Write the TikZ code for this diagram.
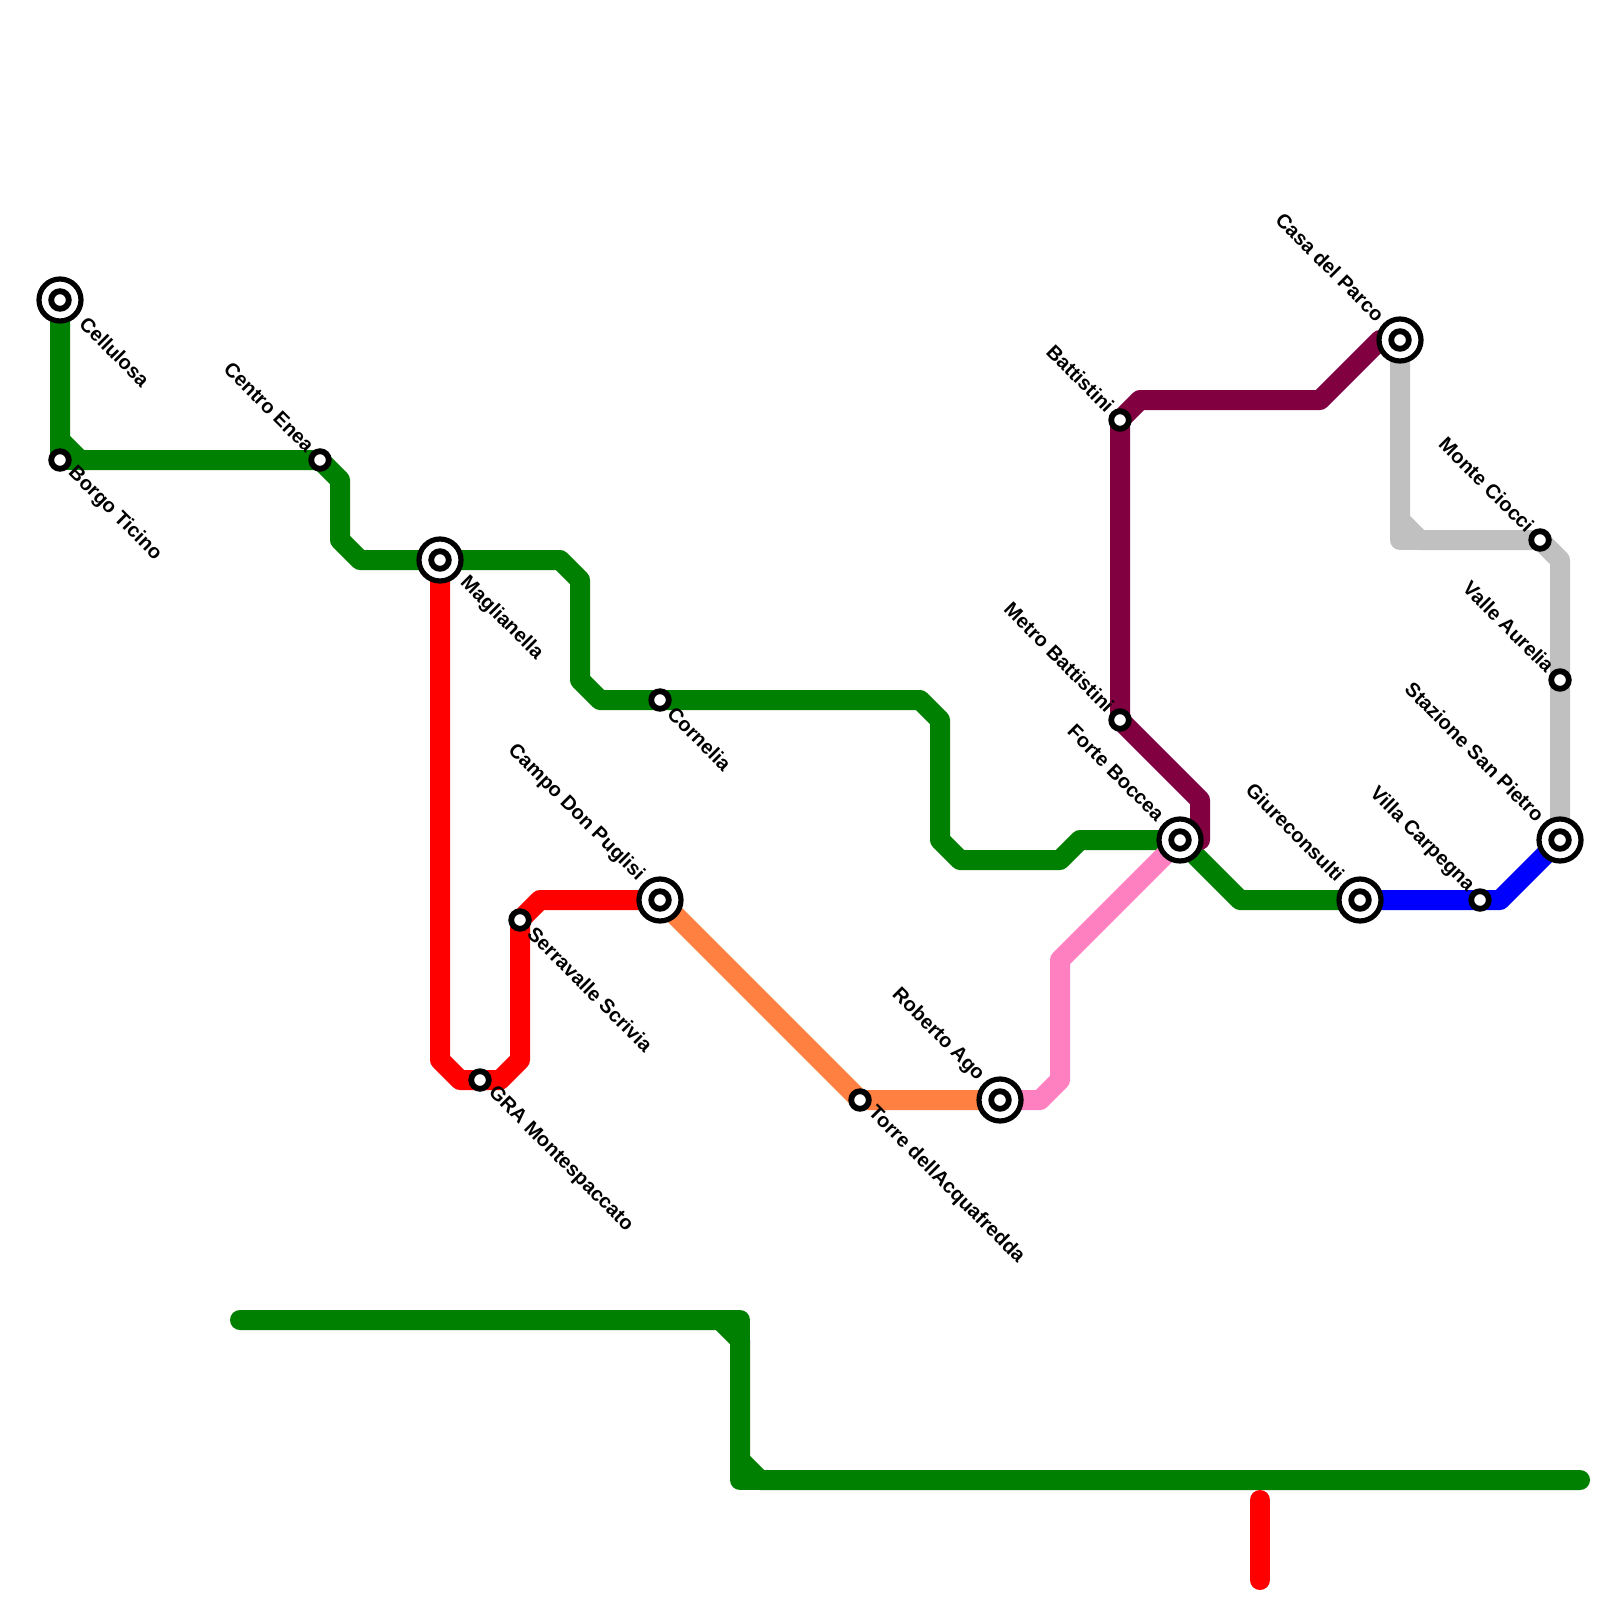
\documentclass[tikz,border=0pt]{standalone}
\usepackage{fontspec}
\setmainfont{Liberation Sans}
\usetikzlibrary{backgrounds}

\begin{document}
\begin{tikzpicture}[
    % GLOBAL CFG
    x=0.5pt,
    y=-0.5pt,
    font=\bfseries\fontsize{10}{12}\selectfont,
    % Styles
    stop/.style={% For plain stations
        circle,
        draw=black,
        fill=white,
        line width=2.9pt,
        minimum size=8.8pt,
        inner sep=0pt,
        },
    hubring/.style={% Outer ring of interchange stations
        stop,
        line width=2.6pt,
        minimum size=21pt,
        },
    txtdown/.style 2 args={% Names running away from the station
        inner sep=0pt,
        anchor=west,
        xshift=#1,
        yshift=-#2,
        rotate=-45,
        },
    txtup/.style 2 args={% Names running into the station
        inner sep=0pt,
        anchor=east,
        xshift=-#1,
        yshift=#2,
        rotate=-45,
        },
    stopdown/.style={txtdown={5.5pt}{5pt}},
    hubdown/.style={txtdown={11.5pt}{10pt}},
    stopup/.style={txtup={4.5pt}{5.5pt}},
    hubup/.style={txtup={9.5pt}{11pt}},
    LineAll/.style={% All lines
        line width=10pt,
        line join=round,
        line cap=round,
        },
    LineG/.style={LineAll, draw={rgb,255:red,0;green,128;blue,0}},
    LineR/.style={LineAll, draw=red},
    LineB/.style={LineAll, draw=blue},
    LineO/.style={LineAll, draw={rgb,255:red,255;green,128;blue,64}},
    LineP/.style={LineAll, draw={rgb,255:red,255;green,128;blue,192}},
    LineM/.style={LineAll, draw={rgb,255:red,128;green,0;blue,64}},
    LineS/.style={LineAll, draw={rgb,255:red,192;green,192;blue,192}},
    ]

\useasboundingbox (0,0) rectangle (1600,1600);

    % Draw the interchange stations
    \node [hubring] (cellulosa) at (60,300) {};
    \node [hubring] (maglianella) at (440,560) {};
    \node [hubring] (campo) at (660,900) {};
    \node [hubring] (roberto) at (1000,1100) {};
    \node [hubring] (forte) at (1180,840) {};
    \node [hubring] (giure) at (1360,900) {};
    \node [hubring] (casa) at (1400,340) {};
    \node [hubring] (pietro) at (1560,840) {};
    \foreach \hubname in {cellulosa,maglianella,campo,roberto,forte,giure,casa,pietro}
        \node [stop] (\hubname in) at (\hubname) {};

    % Draw the plain stations
    \node [stop] (borgo) at (60,460) {};
    \node [stop] (centro) at (320,460) {};
    \node [stop] (cornelia) at (660,700) {};
    \node [stop] (gra) at (480,1080) {};
    \node [stop] (serravalle) at (520,920) {};
    \node [stop] (torre) at (860,1100) {};
    \node [stop] (battistini) at (1120,420) {};
    \node [stop] (metro) at (1120,720) {};
    \node [stop] (monte) at (1540,540) {};
    \node [stop] (valle) at (1560,680) {};
    \node [stop] (villa) at (1480,900) {};

    % Free ends of the two lines at the bottom
    \coordinate (gstart) at (240,1320);
    \coordinate (gend) at (1580,1480);
    \coordinate (rstart) at (1260,1500);
    \coordinate (rend) at (1260,1580);

    % Lines go below the stations
    \begin{pgfonlayer}{background}
    \draw [LineG] (cellulosa.center) -- (60,440) -- (80,460) -- (centro.center)
        -- (340,480) -- (340,540) -- (360,560) -- (maglianella.center)
        -- (560,560) -- (580,580) -- (580,680) -- (600,700) -- (cornelia.center)
        -- (920,700) -- (940,720) -- (940,840) -- (960,860) -- (1060,860)
        -- (1080,840) -- (forte.center) -- (1240,900) -- (giure.center);
    \draw [LineG] (60,440) -- (borgo.center) -- (80,460);
    \draw [LineG] (gstart) -- (720,1320) -- (740,1340) -- (740,1460) -- (760,1480) -- (gend);
    \draw [LineG] (720,1320) -- (740,1320) -- (740,1340);
    \draw [LineG] (740,1460) -- (740,1480) -- (760,1480);
    \draw [LineR] (maglianella.center) -- (440,1060) -- (460,1080) -- (gra.center)
        -- (500,1080) -- (520,1060) -- (serravalle.center) -- (540,900) -- (campo.center);
    \draw [LineR] (rstart) -- (rend);
    \draw [LineO] (campo.center) -- (torre.center) -- (roberto.center);
    \draw [LineP] (roberto.center) -- (1040,1100) -- (1060,1080) -- (1060,960) -- (forte.center);
    \draw [LineM] (casa.center) -- (1380,340) -- (1320,400) -- (1140,400)
        -- (battistini.center) -- (metro.center) -- (1200,800) -- (1200,840) -- (forte.center);
    \draw [LineS] (casa.center) -- (1400,520) -- (1420,540) -- (monte.center)
        -- (1560,560) -- (valle.center) -- (pietro.center);
    \draw [LineS] (1400,520) -- (1400,540) -- (1420,540);
    \draw [LineB] (giure.center) -- (villa.center) -- (1500,900) -- (pietro.center);
    \end{pgfonlayer}

    % Names of the stations
    \node [hubdown] (cellulosatxt) at (cellulosa) {Cellulosa};
    \node [hubdown] (maglianellatxt) at (maglianella) {Maglianella};
    \node [stopdown] (borgotxt) at (borgo) {Borgo Ticino};
    \node [stopdown] (corneliatxt) at (cornelia) {Cornelia};
    \node [stopdown] (gratxt) at (gra) {GRA Montespaccato};
    \node [stopdown] (serravalletxt) at (serravalle) {Serravalle Scrivia};
    \node [stopdown] (torretxt) at (torre) {Torre dellAcquafredda};
    \node [stopup] (centrotxt) at (centro) {Centro Enea};
    \node [stopup] (battistinitxt) at (battistini) {Battistini};
    \node [stopup] (metrotxt) at (metro) {Metro Battistini};
    \node [stopup] (montetxt) at (monte) {Monte Ciocci};
    \node [stopup] (valletxt) at (valle) {Valle Aurelia};
    \node [stopup] (villatxt) at (villa) {Villa Carpegna};
    \node [hubup] (campotxt) at (campo) {Campo Don Puglisi};
    \node [hubup] (robertotxt) at (roberto) {Roberto Ago};
    \node [hubup] (fortetxt) at (forte) {Forte Boccea};
    \node [hubup] (giuretxt) at (giure) {Giureconsulti};
    \node [hubup] (casatxt) at (casa) {Casa del Parco};
    \node [hubup] (pietrotxt) at (pietro) {Stazione San Pietro};

\end{tikzpicture}
\end{document}
